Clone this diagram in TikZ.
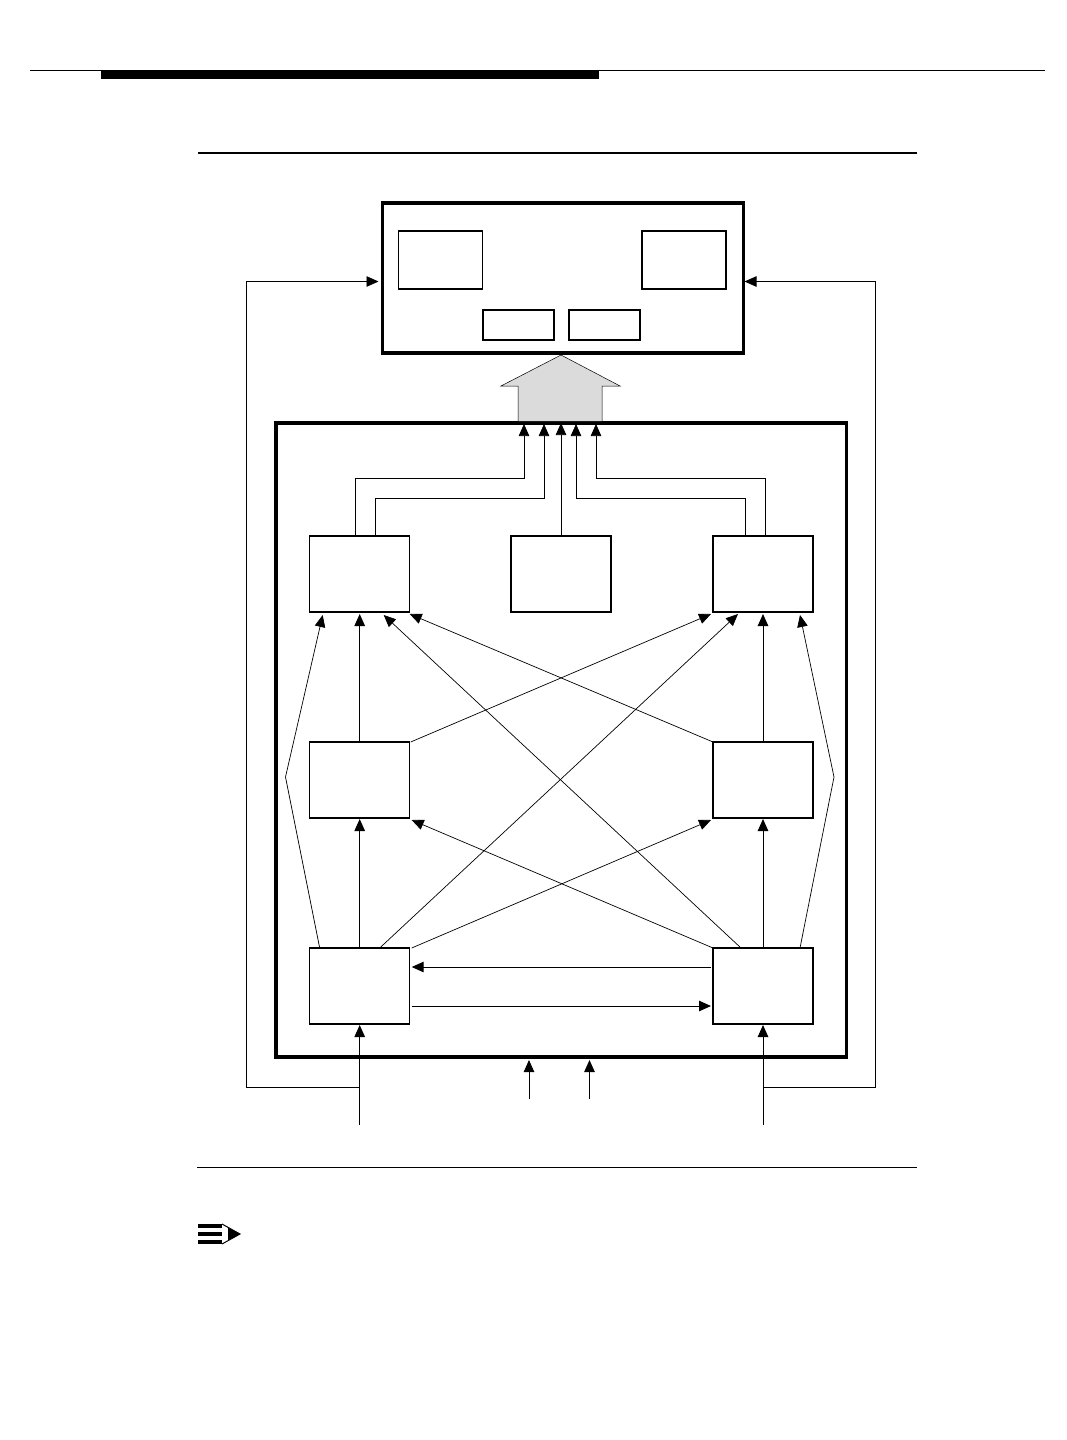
\documentclass[tikz,border=0pt]{standalone}
\usepackage{amsmath}
\usetikzlibrary{arrows.meta,calc,positioning}
\definecolor{housegray}{rgb}{0.86, 0.86, 0.86}
\tikzset{
  marco/.style={
    draw=black,
    line width=3.2pt,
    inner sep=0pt,
    outer sep=0pt
  },
  bloque/.style={
    draw=black,
    line width=1.2pt,
    inner sep=0pt,
    outer sep=0pt,
    minimum width=100pt,
    minimum height=76pt
  },
  mini/.style={
    draw=black,
    line width=1.3pt,
    inner sep=0pt,
    outer sep=0pt
  },
  arrow/.style={
    -{Triangle[length=12pt,width=10.5pt]},
    line width=1pt,
    black
  },
  fino/.style={
    -{Triangle[length=12pt,width=10.5pt]},
    line width=.7pt,
    black
  },
  regla/.style={
    draw=black,
    line width=1.4pt
  }
}
\begin{document}
\begin{tikzpicture}[x=1pt,y=-1pt]
\useasboundingbox (0,0) rectangle (1066,1440);
% page furniture
\draw[line width=.8pt] (30,70.5) -- (1045,70.5);
\fill (101,70) rectangle (599,79);
\draw[regla] (198,153) -- (917,153);
\draw[line width=1pt] (197,1167) -- (917,1167);
\fill (198,1224) rectangle (222,1228);
\fill (198,1231.5) rectangle (222,1235.5);
\fill (198,1240) rectangle (222,1244);
\draw[line width=1pt] (222,1224) -- (240,1234) -- (222,1244);
\fill (228,1227.5) -- (240,1234) -- (228,1240.5) -- cycle;
% top unit
\node[marco, minimum width=361pt, minimum height=150pt] (unidad) at (563,278) {};
\node[mini, minimum width=84pt, minimum height=58pt] (izq) at (440.5,260) {};
\node[mini, minimum width=84pt, minimum height=58pt] (der) at (684,260) {};
\node[mini, minimum width=71pt, minimum height=30pt] (sub1) at (518.5,325) {};
\node[mini, minimum width=71pt, minimum height=30pt, right=15pt of sub1] (sub2) {};
% large frame and the house arrow
\node[marco, minimum width=570.6pt, minimum height=634pt] (marco) at (561.2,740) {};
\draw[draw=black, line width=.5pt, fill=housegray] (518,421) -- (518,386) -- (501,386) -- (561,355)
  -- (620,386) -- (602,386) -- (602,421);
% blocks
\node[bloque] (tl) at (359.7,574) {};
\node[bloque, right=101.3pt of tl] (tm) {};
\node[bloque, right=102pt of tm] (tr) {};
\node[bloque, below=130pt of tl] (ml) {};
\node[bloque, below=130pt of tr] (mr) {};
\node[bloque, below=130pt of ml] (bl) {};
\node[bloque, below=130pt of mr] (br) {};
% free ends
\coordinate (inA) at (359.7,1125);
\coordinate (inB) at (763,1125);
\coordinate (inC) at (529,1099);
\coordinate (inD) at (589.5,1099);
\coordinate (tapA) at (359,1087);
\coordinate (tapB) at (763,1087);
\coordinate (kneeL) at (285.5,777);
\coordinate (kneeR) at (834,777);
% up to the frame
\draw[fino] ([xshift=-4pt]tl.north) |- (524,478) -- (524,424);
\draw[fino] ([xshift=16pt]tl.north) |- (544,498) -- (544,424);
\draw[fino] (tm.north) -- (tm.north |- marco.north);
\draw[fino] ([xshift=-18pt]tr.north) |- (576,498) -- (576,424);
\draw[fino] ([xshift=2pt]tr.north) |- (596,478) -- (596,424);
% straight up
\draw[arrow] (ml.north) -- ([yshift=-2pt]tl.south);
\draw[arrow] (mr.north) -- ([yshift=-2pt]tr.south);
\draw[arrow] (bl.north) -- ([yshift=-1pt]ml.south);
\draw[arrow] (br.north) -- ([yshift=-1pt]mr.south);
% crossing
\draw[fino] ([xshift=1pt]ml.north east) -- ([xshift=-2pt,yshift=-2pt]tr.south west);
\draw[fino] (mr.north west) -- ([xshift=0pt,yshift=-2pt]tl.south east);
\draw[fino] ([xshift=-30pt]bl.north east) -- ([xshift=25pt,yshift=-2pt]tr.south west);
\draw[fino] ([xshift=28pt]br.north west) -- ([xshift=-26pt,yshift=-3pt]tl.south east);
\draw[fino] ([xshift=2pt]bl.north east) -- ([xshift=-2pt,yshift=-2pt]mr.south west);
\draw[fino] (br.north west) -- ([xshift=2pt,yshift=-2pt]ml.south east);
% outer bows
\draw[fino] ([xshift=-40pt]bl.north) -- (kneeL) -- ([xshift=-37pt,yshift=-3pt]tl.south);
\draw[fino] ([xshift=37pt]br.north) -- (kneeR) -- ([xshift=37pt,yshift=-3pt]tr.south);
% between the bottom blocks
\draw[arrow] ([yshift=-19pt,xshift=-2pt]br.north west) -- ([yshift=-19pt,xshift=2pt]bl.north east);
\draw[arrow] ([yshift=-58pt,xshift=2pt]bl.north east) -- ([yshift=-58pt,xshift=-2pt]br.north west);
% inputs
\draw[arrow] (inA) -- ([yshift=-1pt]bl.south);
\draw[arrow] (br.south |- inB) -- ([yshift=-1pt]br.south);
\draw[fino, line width=.9pt] (inC) -- (529,1060);
\draw[fino, line width=.9pt] (inD) -- (589.5,1060);
% feedback
\draw[fino] (tapA) -- (246.5,1087) -- (246.5,281.5) -- ([xshift=-4pt]unidad.west |- 246.5,281.5);
\draw[fino] (tapB) -- (875.5,1087) -- (875.5,281.5) -- ([xshift=1pt]unidad.east |- 875.5,281.5);
\end{tikzpicture}
\end{document}
